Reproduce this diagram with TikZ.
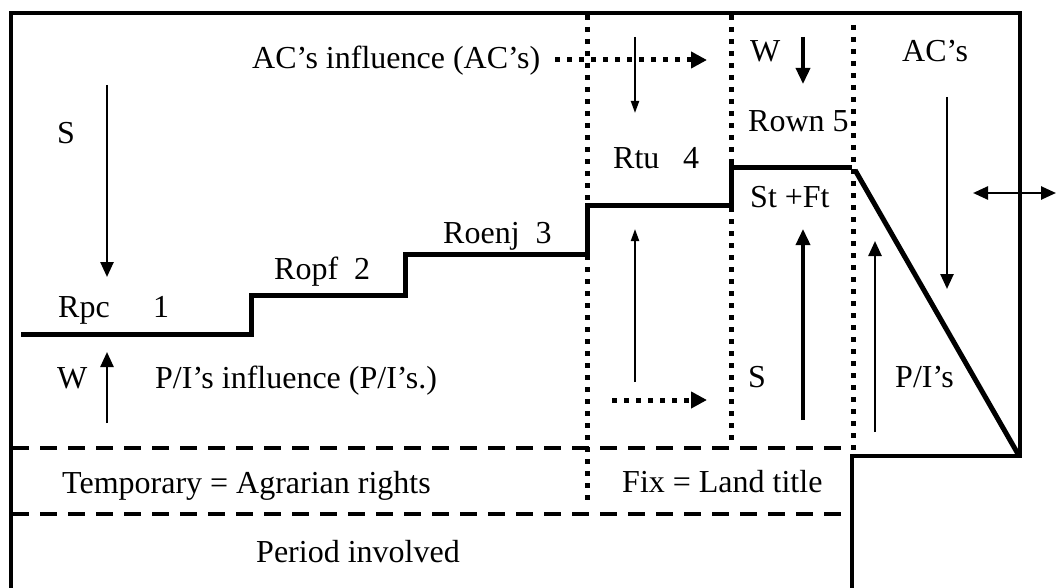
\documentclass[tikz,border=0pt]{standalone}
\usepackage{fontspec}
\setmainfont{Liberation Serif}
\usetikzlibrary{arrows.meta}
\tikzset{
  txt/.style={inner sep=0pt, font=\fontsize{32}{38}\selectfont},
  frameline/.style={line width=3.3pt},
  stair/.style={line width=5pt},
  dotline/.style={line width=5pt, dash pattern=on 5pt off 7pt},
  dashline/.style={line width=4pt, dash pattern=on 17pt off 11pt},
  thinarrow/.style={line width=2.5pt, -{Triangle[length=15pt,width=13pt]}},
  smallarrow/.style={line width=2pt, -{Triangle[length=12pt,width=8pt]}},
  boldarrow/.style={line width=3.5pt, -{Triangle[length=16pt,width=14pt]}},
  dotarrow/.style={line width=5pt, dash pattern=on 5pt off 7pt, -{Triangle[length=16pt,width=16pt]}},
}
\begin{document}
\begin{tikzpicture}[x=1pt,y=-1pt]
\useasboundingbox (0,0) rectangle (1056,588);
% frame
\coordinate (fBL) at (11,588);
\coordinate (fTL) at (11,13);
\coordinate (fTR) at (1020,13);
\coordinate (fBR) at (1020,456);
\coordinate (fBM) at (852,456);
\coordinate (fBB) at (852,588);
\draw[frameline] (fBL) -- (fTL) -- (fTR) -- (fBR) -- (fBM) -- (fBB);
% dashed horizontals
\coordinate (d1a) at (12,448); \coordinate (d1b) at (850,448);
\coordinate (d2a) at (12,514); \coordinate (d2b) at (845,514);
\draw[dashline] (d1a) -- (d1b);
\draw[dashline] (d2a) -- (d2b);
% dotted verticals
\coordinate (v1a) at (587,15); \coordinate (v1b) at (587,500);
\coordinate (v2a) at (731,15); \coordinate (v2b) at (731,443);
\coordinate (v3a) at (853,25); \coordinate (v3b) at (853,450);
\draw[dotline] (v1a) -- (v1b);
\draw[dotline] (v2a) -- (v2b);
\draw[dotline] (v3a) -- (v3b);
% staircase
\coordinate (s0) at (21,334);
\coordinate (s1) at (251,334);
\coordinate (s2) at (251,295);
\coordinate (s3) at (405,295);
\coordinate (s4) at (405,254);
\coordinate (s5) at (587,254);
\coordinate (s6) at (587,205);
\coordinate (s7) at (731,205);
\coordinate (s8) at (731,159);
\coordinate (s9) at (731,168);
\coordinate (s10) at (852,168);
\coordinate (g0) at (855,170);
\coordinate (g1) at (1018,454);
\draw[stair] (s0) -- (s1) -- (s2) -- (s3) -- (s4) -- (s5) -- (s6) -- (s7) -- (s8);
\draw[stair] (s9) -- (s10);
\draw[stair] (g0) -- (g1);
% arrows
\coordinate (aS1) at (107,85); \coordinate (aS2) at (107,277);
\draw[thinarrow] (aS1) -- (aS2);
\coordinate (aW1) at (107,423); \coordinate (aW2) at (107,352);
\draw[thinarrow] (aW1) -- (aW2);
\coordinate (dA1) at (555,60); \coordinate (dA2) at (707,60);
\draw[dotarrow] (dA1) -- (dA2);
\coordinate (dB1) at (612,400); \coordinate (dB2) at (707,400);
\draw[dotarrow] (dB1) -- (dB2);
\coordinate (c4a) at (635,37); \coordinate (c4b) at (635,113);
\draw[smallarrow] (c4a) -- (c4b);
\coordinate (c4c) at (635,382); \coordinate (c4d) at (635,229);
\draw[smallarrow] (c4c) -- (c4d);
\coordinate (c5a) at (803,37); \coordinate (c5b) at (803,84);
\draw[boldarrow] (c5a) -- (c5b);
\coordinate (c5c) at (803,420); \coordinate (c5d) at (803,229);
\draw[boldarrow] (c5c) -- (c5d);
\coordinate (c6a) at (875,432); \coordinate (c6b) at (875,241);
\draw[thinarrow] (c6a) -- (c6b);
\coordinate (c7a) at (947,97); \coordinate (c7b) at (947,289);
\draw[thinarrow] (c7a) -- (c7b);
\coordinate (dbl1) at (973,193); \coordinate (dbl2) at (1056,193);
\draw[line width=2.5pt, {Triangle[length=15pt,width=13pt]}-{Triangle[length=15pt,width=13pt]}] (dbl1) -- (dbl2);
% texts
\node[txt, anchor=base west] (tAC) at (252,69) {AC’s influence (AC’s)};
\node[txt, anchor=base west] (tS) at (57,144) {S};
\node[txt, anchor=base west] (tR3) at (443,243) {Roenj\hspace{0.5em}3};
\node[txt, anchor=base west] (tR2) at (274,279) {Ropf\hspace{0.5em}2};
\node[txt, anchor=base west] (tR1) at (58,317) {Rpc};
\node[txt, anchor=base west] (tR1n) at (153,317) {1};
\node[txt, anchor=base west] (tW) at (57,388) {W};
\node[txt, anchor=base west] (tPI) at (155,388) {P/I’s influence (P/I’s.)};
\node[txt, anchor=base west] (tTemp) at (62,493) {Temporary = Agrarian rights};
\node[txt, anchor=base] (tPer) at (358,562) {Period involved};
\node[txt, anchor=base west] (tFix) at (622,492) {Fix = Land title};
\node[txt, anchor=base west] (tR4) at (613,168) {Rtu};
\node[txt, anchor=base west] (tR4n) at (683,168) {4};
\node[txt, anchor=base west] (tW5) at (750,62) {W};
\node[txt, anchor=base west] (tR5) at (748,132) {Rown 5};
\node[txt, anchor=base west] (tSF) at (750,207) {St +Ft};
\node[txt, anchor=base west] (tAC2) at (902,62) {AC’s};
\node[txt, anchor=base west] (tS5) at (748,387) {S};
\node[txt, anchor=base west] (tPI2) at (895,387) {P/I’s};
\end{tikzpicture}
\end{document}
